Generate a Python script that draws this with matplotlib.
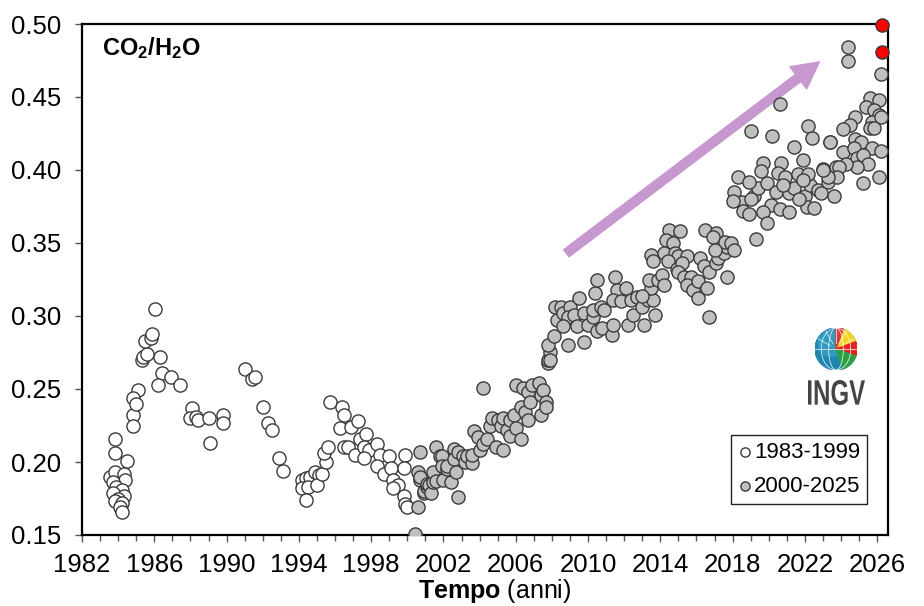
import numpy as np
import matplotlib.pyplot as plt
from matplotlib.patches import Circle, Wedge, PathPatch
from matplotlib.textpath import TextPath
from matplotlib.font_manager import FontProperties
from matplotlib.transforms import Affine2D
from matplotlib.ticker import FixedLocator, MultipleLocator, FormatStrFormatter

plt.rcParams['font.family'] = ['Liberation Sans', 'DejaVu Sans']
plt.rcParams['mathtext.fontset'] = 'custom'
plt.rcParams['mathtext.rm'] = 'Liberation Sans'
plt.rcParams['mathtext.bf'] = 'Liberation Sans:bold'

# 1983-1999 samples (year, CO2/H2O)
old_years = [1983.55, 1983.8, 1984.3, 1984.4, 1983.7, 1983.9, 1984.2, 1983.7, 1984.3, 1984.0,
             1983.8, 1984.2, 1984.1, 1984.2, 1983.8, 1983.8, 1984.5, 1984.8, 1984.8, 1985.1,
             1984.8, 1985.0, 1985.3, 1985.4, 1985.6, 1986.3, 1985.5, 1985.8, 1985.9, 1986.04,
             1986.4, 1986.9, 1987.4, 1986.2, 1988.1, 1988.0, 1988.3, 1988.4, 1989.0, 1989.1,
             1989.8, 1989.8, 1991.0, 1991.4, 1991.6, 1992.0, 1992.3, 1992.5, 1992.9, 1993.1,
             1994.2, 1994.4, 1994.6, 1994.9, 1995.1, 1994.2, 1994.5, 1995.0, 1994.4, 1995.3,
             1995.5, 1995.4, 1995.6, 1995.7, 1996.4, 1996.5, 1996.3, 1996.9, 1997.3, 1996.5,
             1996.7, 1997.1, 1997.4, 1997.7, 1997.6, 1997.9, 1998.3, 1997.6, 1998.5, 1999.0,
             1998.3, 1998.7, 1999.1, 1999.2, 1999.5, 1999.2, 1999.8, 1999.9, 1999.8, 1999.9,
             2000.0]
old_vals = [0.190, 0.193, 0.192, 0.188, 0.186, 0.183, 0.181, 0.179, 0.177, 0.175,
            0.173, 0.172, 0.169, 0.166, 0.216, 0.206, 0.201, 0.232, 0.225, 0.249,
            0.244, 0.240, 0.270, 0.272, 0.274, 0.272, 0.283, 0.285, 0.288, 0.305,
            0.261, 0.258, 0.253, 0.253, 0.237, 0.230, 0.231, 0.229, 0.230, 0.213,
            0.232, 0.227, 0.264, 0.257, 0.258, 0.238, 0.227, 0.222, 0.203, 0.194,
            0.188, 0.189, 0.190, 0.193, 0.191, 0.182, 0.183, 0.184, 0.174, 0.192,
            0.200, 0.206, 0.210, 0.241, 0.238, 0.232, 0.223, 0.224, 0.228, 0.210,
            0.210, 0.205, 0.216, 0.219, 0.210, 0.208, 0.212, 0.203, 0.205, 0.204,
            0.197, 0.192, 0.196, 0.188, 0.184, 0.182, 0.177, 0.205, 0.196, 0.171,
            0.169]

# 2000-2025 samples
new_years = [2000.4, 2000.6, 2000.6, 2000.7, 2000.7, 2000.9, 2000.7, 2000.9, 2001.1, 2001.1,
             2001.2, 2001.3, 2001.4, 2001.4, 2001.6, 2001.6, 2001.8, 2001.9, 2001.9, 2002.0,
             2002.2, 2002.2, 2002.4, 2002.6, 2002.6, 2002.7, 2002.8, 2002.8, 2003.1, 2003.2,
             2003.3, 2003.6,
             2003.6, 2003.7, 2003.9, 2004.0, 2004.2, 2004.2, 2004.4, 2004.6, 2004.7, 2004.9,
             2005.0, 2005.2, 2005.3, 2005.3, 2005.5, 2005.7, 2005.7, 2005.9, 2006.0, 2006.0,
             2006.3, 2006.3, 2006.4, 2006.5, 2006.7, 2006.7, 2006.8, 2006.9, 2007.3, 2007.4,
             2007.4, 2007.5, 2007.7, 2007.7, 2007.8, 2007.8, 2007.9, 2007.9, 2007.8, 2008.1,
             2008.2, 2008.5, 2008.3, 2008.6, 2008.9, 2009.0, 2008.9, 2009.2, 2008.6, 2009.4,
             2009.5, 2009.8, 2009.8, 2010.0, 2010.3, 2010.3, 2010.4, 2010.5, 2010.5, 2010.7,
             2010.8, 2010.9, 2011.3, 2011.4,
             2011.5, 2011.6, 2012.1, 2011.4, 2011.8, 2012.4, 2012.2, 2012.5, 2012.7, 2013.0,
             2013.1, 2013.3, 2013.6, 2013.5, 2013.7, 2013.4, 2013.9, 2014.1, 2014.2, 2013.0,
             2013.5, 2013.6,
             2014.5, 2015.1, 2014.3, 2014.7, 2014.2, 2014.8, 2015.0, 2014.4, 2014.9, 2015.5,
             2015.2, 2015.0, 2015.3, 2015.7, 2015.5, 2015.8, 2016.1, 2016.1, 2016.2, 2016.4,
             2016.5, 2017.1, 2016.9, 2016.7, 2016.6, 2016.7,
             2017.1, 2017.2, 2017.5, 2017.7, 2017.7, 2017.6, 2017.9, 2018.1, 2017.0,
             2018.1, 2018.5, 2018.0, 2019.2, 2019.4, 2019.9, 2020.4, 2021.1, 2021.4, 2022.0,
             2022.3, 2022.7, 2020.1, 2019.7, 2019.9, 2020.6, 2021.1, 2022.1, 2022.5, 2023.3,
             2023.6,
             2019.7, 2020.7, 2021.9, 2019.6, 2018.3, 2018.9, 2020.5, 2020.9, 2021.6, 2022.2,
             2023.0, 2023.7,
             2020.6, 2019.0, 2020.2, 2022.2, 2022.4, 2021.4, 2023.4, 2019.3,
             2018.6, 2018.9, 2019.0, 2021.7, 2022.9, 2020.8, 2021.9,
             2024.4, 2024.4, 2026.2,
             2025.6, 2026.1, 2025.4, 2025.8, 2026.1, 2025.7, 2026.2, 2025.6, 2025.8,
             2024.8, 2024.5, 2024.1, 2024.8, 2025.1, 2025.7, 2026.2, 2024.1, 2024.7, 2024.9,
             2025.2, 2025.5, 2024.9, 2024.3, 2026.1, 2025.2, 2023.9, 2023.8, 2023.3, 2023.0,
             2023.4]
new_vals = [0.151, 0.169, 0.193, 0.207, 0.188, 0.179, 0.190, 0.180, 0.183, 0.185,
            0.184, 0.179, 0.186, 0.193, 0.210, 0.187, 0.204, 0.204, 0.197, 0.188,
            0.195, 0.197, 0.186, 0.209, 0.202, 0.193, 0.207, 0.176, 0.204, 0.200,
            0.204, 0.199,
            0.205, 0.221, 0.217, 0.208, 0.212, 0.251, 0.216, 0.225, 0.230, 0.210,
            0.229, 0.225, 0.230, 0.208, 0.222, 0.229, 0.218, 0.232, 0.223, 0.253,
            0.238, 0.216, 0.251, 0.234, 0.229, 0.248, 0.241, 0.253, 0.254, 0.246,
            0.232, 0.249, 0.241, 0.238, 0.268, 0.270, 0.275, 0.270, 0.280, 0.286,
            0.306, 0.306, 0.297, 0.302, 0.280, 0.306, 0.299, 0.301, 0.293, 0.293,
            0.312, 0.282, 0.302, 0.294, 0.299, 0.304, 0.316, 0.325, 0.290, 0.306,
            0.292, 0.304, 0.287, 0.294,
            0.327, 0.318, 0.319, 0.311, 0.310, 0.311, 0.294, 0.301, 0.313, 0.306,
            0.294, 0.311, 0.311, 0.319, 0.301, 0.325, 0.325, 0.328, 0.321, 0.314,
            0.342, 0.338,
            0.359, 0.358, 0.352, 0.350, 0.343, 0.343, 0.341, 0.338, 0.332, 0.341,
            0.336, 0.330, 0.327, 0.327, 0.321, 0.318, 0.312, 0.324, 0.340, 0.334,
            0.359, 0.357, 0.354, 0.330, 0.319, 0.299,
            0.336, 0.340, 0.343, 0.347, 0.327, 0.351, 0.350, 0.345, 0.345,
            0.385, 0.378, 0.379, 0.382, 0.388, 0.391, 0.385, 0.384, 0.388, 0.382,
            0.390, 0.386, 0.376, 0.371, 0.364, 0.373, 0.371, 0.375, 0.374, 0.392,
            0.382,
            0.405, 0.405, 0.407, 0.399, 0.395, 0.392, 0.398, 0.395, 0.397, 0.397,
            0.401, 0.402,
            0.445, 0.427, 0.423, 0.430, 0.422, 0.416, 0.419, 0.353,
            0.372, 0.370, 0.380, 0.380, 0.384, 0.390, 0.393,
            0.484, 0.475, 0.466,
            0.449, 0.448, 0.443, 0.441, 0.438, 0.433, 0.436, 0.429, 0.429,
            0.436, 0.431, 0.428, 0.421, 0.419, 0.415, 0.413, 0.412, 0.415, 0.408,
            0.410, 0.404, 0.402, 0.404, 0.395, 0.391, 0.402, 0.395, 0.395, 0.400,
            0.419]

# latest samples highlighted in red
last_years = [2026.25, 2026.25]
last_vals = [0.499, 0.481]

year_ticks = list(range(1982, 2027, 4))

fig = plt.figure(figsize=(9.24, 6.06), dpi=100)
ax = fig.add_axes([82 / 924, 1 - 535 / 606, 806 / 924, 511 / 606])

ax.scatter(old_years, old_vals, s=90, facecolor='white', edgecolor='#3a3a3a',
           linewidth=1.0, zorder=3, label='1983-1999')
ax.scatter(new_years, new_vals, s=90, facecolor='#c0c0c0', edgecolor='#3a3a3a',
           linewidth=1.0, zorder=4, label='2000-2025')
ax.scatter(last_years, last_vals, s=90, facecolor='#ff0000', edgecolor='#3a3a3a',
           linewidth=1.0, zorder=6, clip_on=False)

ax.set_xlim(1982, 2026.6)
ax.set_ylim(0.15, 0.50)
ax.xaxis.set_major_locator(FixedLocator(year_ticks))
ax.xaxis.set_minor_locator(MultipleLocator(1))
ax.yaxis.set_major_locator(MultipleLocator(0.05))
ax.yaxis.set_major_formatter(FormatStrFormatter('%.2f'))
ax.tick_params(axis='both', which='major', direction='out', length=5, width=1,
               labelsize=18.5, color='#555555')
ax.tick_params(axis='x', which='minor', direction='out', length=4, width=1,
               color='#555555')
ax.tick_params(axis='x', pad=8)
ax.tick_params(axis='y', pad=10)
for sp in ax.spines.values():
    sp.set_linewidth(1.6)

ax.set_xlabel(r'$\mathbf{Tempo}$ (anni)', fontsize=18, labelpad=0)
ax.xaxis.label.set_x(0.512)
ax.text(0.025, 0.953, r'$\mathbf{CO_2/H_2O}$', transform=ax.transAxes,
        fontsize=17, va='center', ha='left')

# trend arrow
ax.annotate('', xy=(2022.8, 0.474), xytext=(2008.8, 0.343),
            arrowprops=dict(arrowstyle='simple,tail_width=0.32,head_width=1.0,head_length=0.95',
                            color='#c797cf', mutation_scale=20, shrinkA=0, shrinkB=0),
            zorder=2)

leg = ax.legend(loc='upper left', bbox_to_anchor=(0.805, 0.196), borderaxespad=0,
                fontsize=16, handletextpad=0.05, handlelength=0.7, markerscale=0.7,
                fancybox=False, edgecolor='#222222', framealpha=1,
                borderpad=0.3, labelspacing=0.6)
leg.get_frame().set_linewidth(1.0)

# INGV logo: globe
lax = fig.add_axes([815 / 924, 1 - 370 / 606, 42 / 924, 42 / 606])
lax.set_xlim(-1, 1)
lax.set_ylim(-1, 1)
lax.set_aspect('equal')
lax.axis('off')
lax.add_patch(Circle((0, 0), 1, color='#1f86b0'))
lax.add_patch(Circle((-0.25, 0.25), 0.6, color='#3aa7c9', alpha=0.6))
lax.add_patch(Wedge((0, 0), 1, 20, 70, color='#f2d21a'))
lax.add_patch(Wedge((0, 0), 1, -20, 20, color='#e32424'))
lax.add_patch(Wedge((0, 0), 1, -70, -20, color='#2ea043'))
lax.add_patch(Wedge((0, 0), 1, 70, 90, color='#d93a3a'))
for a in np.linspace(-60, 60, 5):
    r = np.radians(a)
    lax.plot([np.sin(r) * 0.3, np.sin(r) * 0.98], [np.cos(r) * 0.3, np.cos(r) * 0.98],
             color='white', lw=0.6, alpha=0.8)
t = np.linspace(0, 2 * np.pi, 100)
for w in [0.35, 0.7]:
    lax.plot(w * np.cos(t), np.sin(t), color='white', lw=0.6, alpha=0.8)
lax.plot([-1, 1], [0, 0], color='white', lw=0.6, alpha=0.8)

# INGV logo: condensed lettering squeezed into its box (figure pixels)
tax = fig.add_axes([0, 0, 1, 1], zorder=7)
tax.set_xlim(0, 924)
tax.set_ylim(0, 606)
tax.axis('off')
tp = TextPath((0, 0), 'INGV', size=10, prop=FontProperties(family='Liberation Sans', weight='bold'))
ext = tp.get_extents()
x0, x1, y0, y1 = 808, 865, 606 - 405, 606 - 380
tr = Affine2D().translate(-ext.x0, -ext.y0).scale((x1 - x0) / ext.width,
                                                   (y1 - y0) / ext.height).translate(x0, y0)
tax.add_patch(PathPatch(tr.transform_path(tp), color='#444444', lw=0))

fig.savefig('out.png', dpi=100)
